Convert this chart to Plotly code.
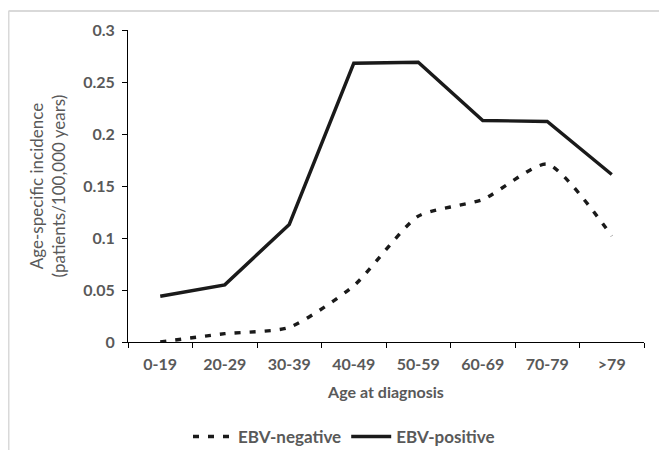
import plotly.graph_objects as go

categories = ["0-19", "20-29", "30-39", "40-49", "50-59", "60-69", "70-79", ">79"]
ebv_negative = [0.0, 0.008, 0.014, 0.054, 0.121, 0.137, 0.171, 0.102]
ebv_positive = [0.044, 0.055, 0.113, 0.268, 0.269, 0.213, 0.212, 0.161]
y_ticks = [0, 0.05, 0.1, 0.15, 0.2, 0.25, 0.3]
y_tick_labels = ["0", "0.05", "0.1", "0.15", "0.2", "0.25", "0.3"]

# page body has an 8px margin; figure is placed at (8, 8) in the window
OFF = 8
W, H = 651, 442
L, T = 128 - OFF, 30 - OFF
R = W - (644 - OFF)
B = H - (342 - OFF)
pw, ph = W - L - R, H - T - B

gray = "#595959"
font_family = "Lato, 'Open Sans', sans-serif"
bold_font = dict(size=16, color=gray, family=font_family, weight="bold")

fig = go.Figure()
fig.add_trace(go.Scatter(
    x=categories, y=ebv_negative, mode="lines", name="EBV-negative",
    line=dict(color="#1a1a1a", width=3.4, dash="6px,9px", shape="spline", smoothing=0.6),
))
fig.add_trace(go.Scatter(
    x=categories, y=ebv_positive, mode="lines", name="EBV-positive",
    line=dict(color="#1a1a1a", width=3.4),
))

def px_x(x):
    return (x - OFF - L) / pw

def px_y(y):
    return (H - B - (y - OFF)) / ph

shapes = [
    dict(type="line", xref="paper", yref="paper", x0=px_x(8.5), x1=px_x(667), y0=px_y(11), y1=px_y(11),
         line=dict(color="#d9d9d9", width=2)),
    dict(type="line", xref="paper", yref="paper", x0=px_x(8.5), x1=px_x(8.5), y0=px_y(11), y1=px_y(458),
         line=dict(color="#d9d9d9", width=2)),
]

fig.update_layout(
    width=W, height=H,
    margin=dict(l=L, r=R, t=T, b=B, autoexpand=False),
    paper_bgcolor="white", plot_bgcolor="white",
    font=dict(family=font_family, color=gray, size=16),
    showlegend=True,
    legend=dict(orientation="h", x=px_x(344), xanchor="center", y=px_y(437), yanchor="middle",
                font=dict(size=17, color=gray, family=font_family, weight="bold"),
                itemwidth=40, traceorder="normal"),
    shapes=shapes,
)
fig.update_xaxes(
    type="category", range=[-0.5, 7.5],
    showline=True, linecolor="black", linewidth=1,
    ticks="outside", tickson="boundaries", ticklen=5, tickcolor="black",
    ticklabelstandoff=8,
    showgrid=False, zeroline=False,
    tickfont=bold_font,
    title=dict(text="Age at diagnosis", font=bold_font, standoff=14),
)
fig.update_yaxes(
    range=[0, 0.3], tickvals=y_ticks, ticktext=y_tick_labels,
    showline=True, linecolor="black", linewidth=1,
    ticks="outside", ticklen=5, tickcolor="black",
    ticklabelstandoff=4,
    showgrid=False, zeroline=False,
    tickfont=bold_font,
    title=dict(text="Age-specific incidence<br>(patients/100,000 years)",
               font=dict(size=17, color=gray, family=font_family), standoff=13),
)

fig.write_html("out.html")
